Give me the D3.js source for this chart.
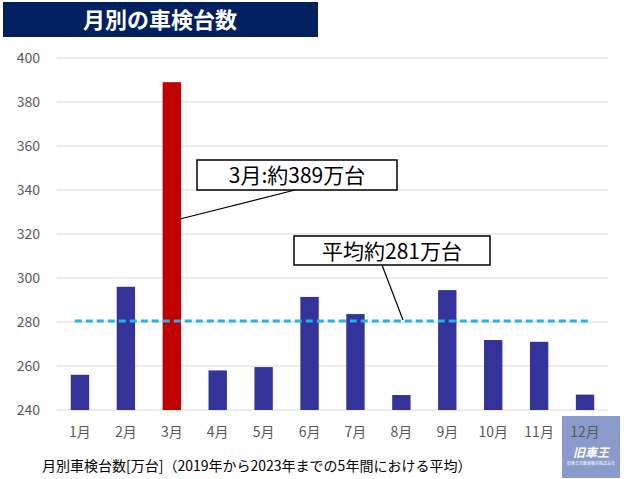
<!DOCTYPE html><html><head><meta charset="utf-8"><script src="https://d3js.org/d3.v7.min.js"></script>
<style>body{margin:0;background:#fff}text{font-family:"Noto Sans CJK JP","Noto Sans",sans-serif}</style></head><body><svg id="c" width="624" height="479"></svg>
<script>
const months=["1月","2月","3月","4月","5月","6月","7月","8月","9月","10月","11月","12月"];
const values=[256,296,389,258,259.5,291.4,283.6,246.8,294.5,271.8,271,247];
const average=280.5;
const yTicks=[240,260,280,300,320,340,360,380,400];
const svg=d3.select("#c");
const x=d3.scaleBand().domain(months).range([57,608]).paddingInner(0.6).paddingOuter(0.3);
const y=d3.scaleLinear().domain([240,400]).range([410,58]);
svg.append("g").selectAll("line").data(yTicks).join("line").attr("x1",57).attr("x2",608).attr("y1",d=>y(d)).attr("y2",d=>y(d)).attr("stroke","#d9d9d9");
svg.append("g").selectAll("text").data(yTicks).join("text").attr("x",40).attr("y",d=>y(d)+5).attr("text-anchor","end").attr("font-size",14).attr("fill","#595959").text(d=>d);
svg.append("rect").attr("x",562).attr("y",416).attr("width",58).attr("height",62).attr("fill","#8a9bcb");
svg.append("g").selectAll("rect").data(values).join("rect").attr("x",(d,i)=>x(months[i])).attr("width",x.bandwidth()).attr("y",d=>y(d)).attr("height",d=>410-y(d)).attr("fill",(d,i)=>i==2?"#c00000":"#333399");
svg.append("g").selectAll("text").data(months).join("text").attr("x",d=>x(d)+x.bandwidth()/2).attr("y",437).attr("text-anchor","middle").attr("font-size",14).attr("fill","#595959").text(d=>d);
svg.append("line").attr("x1",x("1月")+4).attr("x2",x("12月")+x.bandwidth()-4).attr("y1",y(average)).attr("y2",y(average)).attr("stroke","#1fb4ec").attr("stroke-width",3).attr("stroke-dasharray","7,4");
svg.append("rect").attr("x",3).attr("y",2).attr("width",315).attr("height",35).attr("fill","#002060");
svg.append("text").attr("x",160).attr("y",28).attr("text-anchor","middle").attr("font-size",22).attr("font-weight","bold").attr("fill","#fff").text("月別の車検台数");
function callout(bx,by,bw,bh,t,lx1,ly1,lx2,ly2){
 svg.append("line").attr("x1",lx1).attr("y1",ly1).attr("x2",lx2).attr("y2",ly2).attr("stroke","#000").attr("stroke-width",1.2);
 svg.append("rect").attr("x",bx).attr("y",by).attr("width",bw).attr("height",bh).attr("fill","#fff").attr("stroke","#000").attr("stroke-width",1.5);
 svg.append("text").attr("x",bx+bw/2).attr("y",by+bh/2+8).attr("text-anchor","middle").attr("font-size",21).attr("fill","#000").text(t);
}
callout(197,160,200,30,"3月:約389万台",180,219,295,190);
callout(294,236,196,29,"平均約281万台",382,265,403,320);
svg.append("text").attr("x",42).attr("y",471).attr("font-size",14).attr("fill","#000").text("月別車検台数[万台]（2019年から2023年までの5年間における平均）");
svg.append("text").attr("x",591).attr("y",457).attr("text-anchor","middle").attr("font-size",12).attr("font-weight","bold").attr("font-style","italic").attr("fill","#fff").text("旧車王");
svg.append("text").attr("x",591).attr("y",465).attr("text-anchor","middle").attr("font-size",4).attr("fill","#fff").text("旧車王自動車販売株式会社");
</script></body></html>
